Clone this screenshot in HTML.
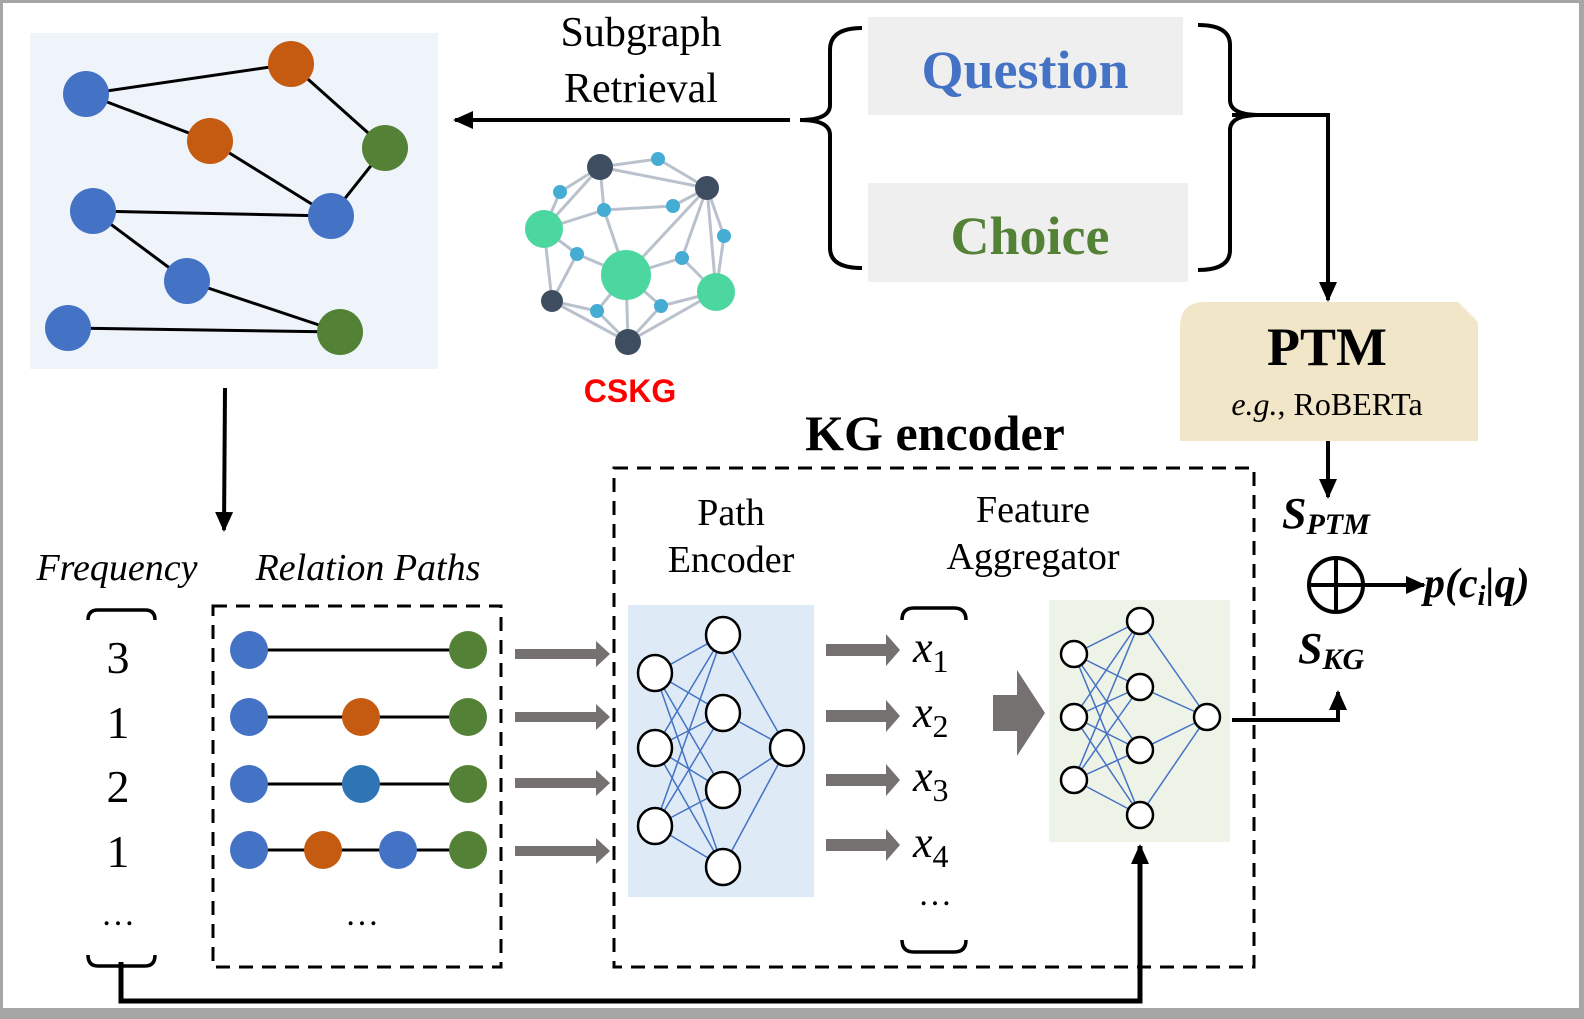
<!DOCTYPE html>
<html><head><meta charset="utf-8"><style>
html,body{margin:0;padding:0;background:#a6a6a6;width:1584px;height:1019px;overflow:hidden;}
svg{display:block;position:absolute;left:0;top:0;}
.s{font-family:"Liberation Serif",serif;}
</style></head><body>
<svg width="1584" height="1019" viewBox="0 0 1584 1019" xmlns="http://www.w3.org/2000/svg">
<defs>
<marker id="ah" markerWidth="20" markerHeight="18" refX="18" refY="9" orient="auto" markerUnits="userSpaceOnUse" viewBox="0 0 20 18"><path d="M0,0 L20,9 L0,18 z" fill="#000"/></marker>
</defs>
<rect x="3" y="3" width="1576" height="1005" fill="#fff"/>
<!-- left graph -->
<rect x="30" y="33" width="408" height="336" fill="#eef4fa"/>
<g stroke="#000" stroke-width="3">
<line x1="86" y1="94" x2="291" y2="64"/><line x1="86" y1="94" x2="210" y2="141"/><line x1="210" y1="141" x2="331" y2="216"/>
<line x1="291" y1="64" x2="385" y2="148"/><line x1="385" y1="148" x2="331" y2="216"/><line x1="93" y1="211" x2="331" y2="216"/>
<line x1="93" y1="211" x2="187" y2="281"/><line x1="187" y1="281" x2="340" y2="332"/><line x1="68" y1="328" x2="340" y2="332"/>
</g>
<g>
<circle cx="86" cy="94" r="23" fill="#4472c4"/><circle cx="291" cy="64" r="23" fill="#c55a11"/><circle cx="210" cy="141" r="23" fill="#c55a11"/>
<circle cx="385" cy="148" r="23" fill="#538135"/><circle cx="93" cy="211" r="23" fill="#4472c4"/><circle cx="331" cy="216" r="23" fill="#4472c4"/>
<circle cx="187" cy="281" r="23" fill="#4472c4"/><circle cx="68" cy="328" r="23" fill="#4472c4"/><circle cx="340" cy="332" r="23" fill="#538135"/>
</g>
<!-- CSKG -->
<g stroke="#b9c2cc" stroke-width="3">
<line x1="600" y1="167" x2="658" y2="159"/><line x1="600" y1="167" x2="707" y2="188"/><line x1="658" y1="159" x2="707" y2="188"/>
<line x1="600" y1="167" x2="560" y2="192"/><line x1="600" y1="167" x2="544" y2="229"/><line x1="600" y1="167" x2="604" y2="210"/>
<line x1="560" y1="192" x2="544" y2="229"/><line x1="544" y1="229" x2="604" y2="210"/><line x1="604" y1="210" x2="673" y2="206"/>
<line x1="673" y1="206" x2="707" y2="188"/><line x1="604" y1="210" x2="626" y2="275"/><line x1="707" y1="188" x2="626" y2="275"/>
<line x1="707" y1="188" x2="682" y2="258"/><line x1="707" y1="188" x2="724" y2="236"/><line x1="707" y1="188" x2="716" y2="292"/>
<line x1="724" y1="236" x2="716" y2="292"/><line x1="544" y1="229" x2="577" y2="254"/><line x1="544" y1="229" x2="552" y2="301"/>
<line x1="577" y1="254" x2="626" y2="275"/><line x1="577" y1="254" x2="552" y2="301"/><line x1="626" y1="275" x2="682" y2="258"/>
<line x1="682" y1="258" x2="716" y2="292"/><line x1="626" y1="275" x2="597" y2="311"/><line x1="626" y1="275" x2="661" y2="306"/>
<line x1="626" y1="275" x2="628" y2="342"/><line x1="552" y1="301" x2="597" y2="311"/><line x1="552" y1="301" x2="628" y2="342"/>
<line x1="597" y1="311" x2="628" y2="342"/><line x1="661" y1="306" x2="628" y2="342"/><line x1="661" y1="306" x2="716" y2="292"/>
<line x1="716" y1="292" x2="628" y2="342"/>
</g>
<g>
<circle cx="600" cy="167" r="13" fill="#3e4e60"/><circle cx="707" cy="188" r="12" fill="#3e4e60"/><circle cx="552" cy="301" r="11" fill="#3e4e60"/><circle cx="628" cy="342" r="13" fill="#3e4e60"/>
<circle cx="544" cy="229" r="19" fill="#4cd6a0"/><circle cx="626" cy="275" r="25" fill="#4cd6a0"/><circle cx="716" cy="292" r="19" fill="#4cd6a0"/>
<g fill="#45acd4"><circle cx="658" cy="159" r="7"/><circle cx="560" cy="192" r="7"/><circle cx="604" cy="210" r="7"/><circle cx="673" cy="206" r="7"/><circle cx="724" cy="236" r="7"/><circle cx="577" cy="254" r="7"/><circle cx="682" cy="258" r="7"/><circle cx="597" cy="311" r="7"/><circle cx="661" cy="306" r="7"/></g>
</g>
<text x="630" y="402" text-anchor="middle" font-family="Liberation Sans,sans-serif" font-weight="bold" font-size="32" fill="#ff0000">CSKG</text>
<text x="641" y="46" text-anchor="middle" class="s" font-size="42">Subgraph</text>
<text x="641" y="102" text-anchor="middle" class="s" font-size="42">Retrieval</text>
<line x1="790" y1="120" x2="455" y2="120" stroke="#000" stroke-width="4" marker-end="url(#ah)"/>
<!-- braces -->
<path d="M862,28 Q830,28 830,50 L830,105 Q830,120 800,120 Q830,120 830,135 L830,248 Q830,268 862,268" fill="none" stroke="#000" stroke-width="4"/>
<path d="M1198,25 Q1230,25 1230,45 L1230,100 Q1230,115 1260,115 Q1230,115 1230,130 L1230,250 Q1230,270 1198,270" fill="none" stroke="#000" stroke-width="4"/>
<polyline points="1232,115 1328,115 1328,300" fill="none" stroke="#000" stroke-width="4" marker-end="url(#ah)"/>
<rect x="868" y="17" width="315" height="98" fill="#efefef"/>
<text x="1025" y="88" text-anchor="middle" class="s" font-weight="bold" font-size="54" fill="#4472c4">Question</text>
<rect x="868" y="183" width="320" height="99" fill="#efefef"/>
<text x="1030" y="254" text-anchor="middle" class="s" font-weight="bold" font-size="54" fill="#538135">Choice</text>
<!-- PTM -->
<path d="M1205,302 L1458,302 L1478,322 L1478,441 L1180,441 L1180,327 Q1180,302 1205,302 z" fill="#f2e6c9"/>
<text x="1327" y="365" text-anchor="middle" class="s" font-weight="bold" font-size="54">PTM</text>
<text x="1327" y="415" text-anchor="middle" class="s" font-size="32"><tspan font-style="italic">e.g.</tspan>, RoBERTa</text>
<line x1="1328" y1="441" x2="1328" y2="497" stroke="#000" stroke-width="4" marker-end="url(#ah)"/>
<text x="1282" y="528" class="s" font-weight="bold" font-style="italic" font-size="44">S<tspan font-size="30" dy="6">PTM</tspan></text>
<circle cx="1336" cy="585" r="27" fill="none" stroke="#000" stroke-width="4"/>
<line x1="1309" y1="585" x2="1363" y2="585" stroke="#000" stroke-width="4"/><line x1="1336" y1="558" x2="1336" y2="612" stroke="#000" stroke-width="4"/>
<line x1="1363" y1="585" x2="1424" y2="585" stroke="#000" stroke-width="4" marker-end="url(#ah)"/>
<text x="1424" y="597" class="s" font-weight="bold" font-style="italic" font-size="42">p(c<tspan font-size="28" dy="8">i</tspan><tspan dy="-8">|q)</tspan></text>
<text x="1298" y="663" class="s" font-weight="bold" font-style="italic" font-size="44">S<tspan font-size="30" dy="6">KG</tspan></text>
<polyline points="1232,720 1338,720 1338,692" fill="none" stroke="#000" stroke-width="4" marker-end="url(#ah)"/>
<!-- KG encoder -->
<text x="935" y="450" text-anchor="middle" class="s" font-weight="bold" font-size="50">KG encoder</text>
<rect x="614" y="468" width="640" height="499" fill="none" stroke="#000" stroke-width="3" stroke-dasharray="14,9"/>
<text x="731" y="525" text-anchor="middle" class="s" font-size="38">Path</text>
<text x="731" y="572" text-anchor="middle" class="s" font-size="38">Encoder</text>
<text x="1033" y="522" text-anchor="middle" class="s" font-size="38">Feature</text>
<text x="1033" y="569" text-anchor="middle" class="s" font-size="38">Aggregator</text>
<rect x="628" y="605" width="186" height="292" fill="#deebf7"/>
<g stroke="#4472c4" stroke-width="1.5">
<line x1="655" y1="673" x2="723" y2="635"/><line x1="655" y1="673" x2="723" y2="713"/><line x1="655" y1="673" x2="723" y2="790"/><line x1="655" y1="673" x2="723" y2="867"/>
<line x1="655" y1="748" x2="723" y2="635"/><line x1="655" y1="748" x2="723" y2="713"/><line x1="655" y1="748" x2="723" y2="790"/><line x1="655" y1="748" x2="723" y2="867"/>
<line x1="655" y1="826" x2="723" y2="635"/><line x1="655" y1="826" x2="723" y2="713"/><line x1="655" y1="826" x2="723" y2="790"/><line x1="655" y1="826" x2="723" y2="867"/>
<line x1="723" y1="635" x2="787" y2="748"/><line x1="723" y1="713" x2="787" y2="748"/><line x1="723" y1="790" x2="787" y2="748"/><line x1="723" y1="867" x2="787" y2="748"/>
</g>
<g fill="#fff" stroke="#000" stroke-width="2.5">
<ellipse cx="655" cy="673" rx="17" ry="18"/><ellipse cx="655" cy="748" rx="17" ry="18"/><ellipse cx="655" cy="826" rx="17" ry="18"/>
<ellipse cx="723" cy="635" rx="17" ry="18"/><ellipse cx="723" cy="713" rx="17" ry="18"/><ellipse cx="723" cy="790" rx="17" ry="18"/><ellipse cx="723" cy="867" rx="17" ry="18"/>
<ellipse cx="787" cy="748" rx="17" ry="18"/>
</g>
<g fill="#767171">
<path d="M826,644 h60 v-10 l14,16 l-14,16 v-10 h-60z"/>
<path d="M826,710 h60 v-10 l14,16 l-14,16 v-10 h-60z"/>
<path d="M826,774 h60 v-10 l14,16 l-14,16 v-10 h-60z"/>
<path d="M826,839 h60 v-10 l14,16 l-14,16 v-10 h-60z"/>
<path d="M993,695 h24 v-25 l28,43 l-28,43 v-25 h-24z"/>
</g>
<g class="s" font-style="italic" font-size="44">
<text x="913" y="662">x<tspan font-style="normal" font-size="32" dy="10">1</tspan></text>
<text x="913" y="727">x<tspan font-style="normal" font-size="32" dy="10">2</tspan></text>
<text x="913" y="791">x<tspan font-style="normal" font-size="32" dy="10">3</tspan></text>
<text x="913" y="857">x<tspan font-style="normal" font-size="32" dy="10">4</tspan></text>
</g>
<text x="935" y="905" text-anchor="middle" class="s" font-size="34">…</text>
<path d="M902,620 Q902,608 914,608 L954,608 Q966,608 966,620" fill="none" stroke="#000" stroke-width="3.5"/>
<path d="M902,940 Q902,952 914,952 L954,952 Q966,952 966,940" fill="none" stroke="#000" stroke-width="3.5"/>
<rect x="1049" y="600" width="181" height="242" fill="#eef3e8"/>
<g stroke="#4472c4" stroke-width="1.5">
<line x1="1074" y1="654" x2="1140" y2="621"/><line x1="1074" y1="654" x2="1140" y2="687"/><line x1="1074" y1="654" x2="1140" y2="750"/><line x1="1074" y1="654" x2="1140" y2="815"/>
<line x1="1074" y1="717" x2="1140" y2="621"/><line x1="1074" y1="717" x2="1140" y2="687"/><line x1="1074" y1="717" x2="1140" y2="750"/><line x1="1074" y1="717" x2="1140" y2="815"/>
<line x1="1074" y1="780" x2="1140" y2="621"/><line x1="1074" y1="780" x2="1140" y2="687"/><line x1="1074" y1="780" x2="1140" y2="750"/><line x1="1074" y1="780" x2="1140" y2="815"/>
<line x1="1140" y1="621" x2="1207" y2="717"/><line x1="1140" y1="687" x2="1207" y2="717"/><line x1="1140" y1="750" x2="1207" y2="717"/><line x1="1140" y1="815" x2="1207" y2="717"/>
</g>
<g fill="#fff" stroke="#000" stroke-width="2.5">
<ellipse cx="1074" cy="654" rx="13" ry="13"/><ellipse cx="1074" cy="717" rx="13" ry="13"/><ellipse cx="1074" cy="780" rx="13" ry="13"/>
<ellipse cx="1140" cy="621" rx="13" ry="13"/><ellipse cx="1140" cy="687" rx="13" ry="13"/><ellipse cx="1140" cy="750" rx="13" ry="13"/><ellipse cx="1140" cy="815" rx="13" ry="13"/>
<ellipse cx="1207" cy="717" rx="13" ry="13"/>
</g>
<!-- bottom feedback -->
<polyline points="121,962 121,1001 1140,1001 1140,846" fill="none" stroke="#000" stroke-width="5" marker-end="url(#ah)"/>
<!-- left lower -->
<line x1="225" y1="388" x2="224" y2="530" stroke="#000" stroke-width="4" marker-end="url(#ah)"/>
<text x="117" y="580" text-anchor="middle" class="s" font-style="italic" font-size="38">Frequency</text>
<text x="368" y="580" text-anchor="middle" class="s" font-style="italic" font-size="38">Relation Paths</text>
<path d="M88,620 Q88,610 98,610 L145,610 Q155,610 155,620" fill="none" stroke="#000" stroke-width="3.5"/>
<path d="M88,955 Q88,966 98,966 L145,966 Q155,966 155,955" fill="none" stroke="#000" stroke-width="3.5"/>
<g class="s" font-size="46" text-anchor="middle">
<text x="118" y="673">3</text><text x="118" y="738">1</text><text x="118" y="802">2</text><text x="118" y="867">1</text>
</g>
<text x="118" y="925" text-anchor="middle" class="s" font-size="34">…</text>
<rect x="213" y="606" width="288" height="361" fill="none" stroke="#000" stroke-width="3" stroke-dasharray="14,9"/>
<g stroke="#000" stroke-width="3">
<line x1="249" y1="650" x2="468" y2="650"/><line x1="249" y1="717" x2="468" y2="717"/><line x1="249" y1="784" x2="468" y2="784"/><line x1="249" y1="850" x2="468" y2="850"/>
</g>
<g>
<circle cx="249" cy="650" r="19" fill="#4472c4"/><circle cx="468" cy="650" r="19" fill="#538135"/>
<circle cx="249" cy="717" r="19" fill="#4472c4"/><circle cx="361" cy="717" r="19" fill="#c55a11"/><circle cx="468" cy="717" r="19" fill="#538135"/>
<circle cx="249" cy="784" r="19" fill="#4472c4"/><circle cx="361" cy="784" r="19" fill="#2e75b6"/><circle cx="468" cy="784" r="19" fill="#538135"/>
<circle cx="249" cy="850" r="19" fill="#4472c4"/><circle cx="323" cy="850" r="19" fill="#c55a11"/><circle cx="398" cy="850" r="19" fill="#4472c4"/><circle cx="468" cy="850" r="19" fill="#538135"/>
</g>
<text x="362" y="925" text-anchor="middle" class="s" font-size="34">…</text>
<g fill="#767171">
<path d="M515,649 h81 v-8 l14,13 l-14,13 v-8 h-81z"/>
<path d="M515,712 h81 v-8 l14,13 l-14,13 v-8 h-81z"/>
<path d="M515,778 h81 v-8 l14,13 l-14,13 v-8 h-81z"/>
<path d="M515,846 h81 v-8 l14,13 l-14,13 v-8 h-81z"/>
</g>
</svg>
</body></html>
